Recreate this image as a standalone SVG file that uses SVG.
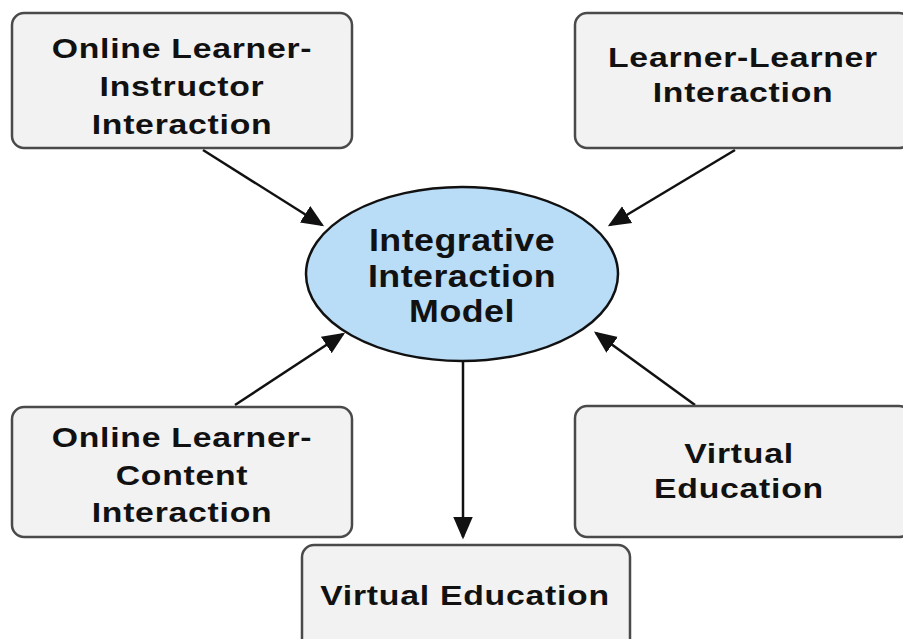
<svg xmlns="http://www.w3.org/2000/svg" width="903" height="639" viewBox="0 0 903 639">
<style>
.box{fill:#f2f2f2;stroke:#4a4a4a;stroke-width:2.5}
.t{font-family:"Liberation Sans",Arial,sans-serif;font-weight:bold;font-size:27px;letter-spacing:0.6px;fill:#111;text-anchor:middle}
.e{font-family:"Liberation Sans",Arial,sans-serif;font-weight:bold;font-size:32px;letter-spacing:0.4px;fill:#111;text-anchor:middle}
.c{stroke:#111;stroke-width:2.5;fill:none;marker-end:url(#ah)}
</style>
<defs>
<marker id="ah" markerWidth="9" markerHeight="9" refX="8" refY="4.5" orient="auto" markerUnits="strokeWidth">
<path d="M0,0.6 L9,4.5 L0,8.4 Z" fill="#111"/>
</marker>
</defs>
<rect width="903" height="639" fill="#fff"/>
<g id="connectors">
<line class="c" x1="203" y1="150" x2="322" y2="225"/>
<line class="c" x1="735" y1="150" x2="610" y2="225"/>
<line class="c" x1="235" y1="405" x2="343" y2="334"/>
<line class="c" x1="695" y1="405" x2="596" y2="333"/>
<line class="c" x1="463" y1="362" x2="463" y2="537"/>
</g>
<g id="n1">
<rect class="box" x="12" y="13" width="340" height="135" rx="12"/>
<g transform="translate(182 0) scale(1.25 1)">
<text class="t" x="0" y="58">Online Learner-</text>
<text class="t" x="0" y="96">Instructor</text>
<text class="t" x="0" y="134">Interaction</text>
</g>
</g>
<g id="n2">
<rect class="box" x="575" y="13" width="336" height="135" rx="12"/>
<g transform="translate(743 0) scale(1.25 1)">
<text class="t" x="0" y="67">Learner-Learner</text>
<text class="t" x="0" y="102">Interaction</text>
</g>
</g>
<g id="center">
<ellipse cx="462" cy="274" rx="156" ry="87" fill="#b9dcf7" stroke="#111" stroke-width="2.5"/>
<g transform="translate(462 0) scale(1.12 1)">
<text class="e" x="0" y="251">Integrative</text>
<text class="e" x="0" y="287">Interaction</text>
<text class="e" x="0" y="322">Model</text>
</g>
</g>
<g id="n3">
<rect class="box" x="12" y="407" width="340" height="130" rx="12"/>
<g transform="translate(182 0) scale(1.25 1)">
<text class="t" x="0" y="447">Online Learner-</text>
<text class="t" x="0" y="485">Content</text>
<text class="t" x="0" y="522">Interaction</text>
</g>
</g>
<g id="n4">
<rect class="box" x="575" y="406" width="336" height="131" rx="12"/>
<g transform="translate(739 0) scale(1.25 1)">
<text class="t" x="0" y="463">Virtual</text>
<text class="t" x="0" y="498">Education</text>
</g>
</g>
<g id="n5">
<rect class="box" x="302" y="545" width="328" height="110" rx="12"/>
<g transform="translate(465 0) scale(1.25 1)">
<text class="t" x="0" y="605">Virtual Education</text>
</g>
</g>
</svg>
